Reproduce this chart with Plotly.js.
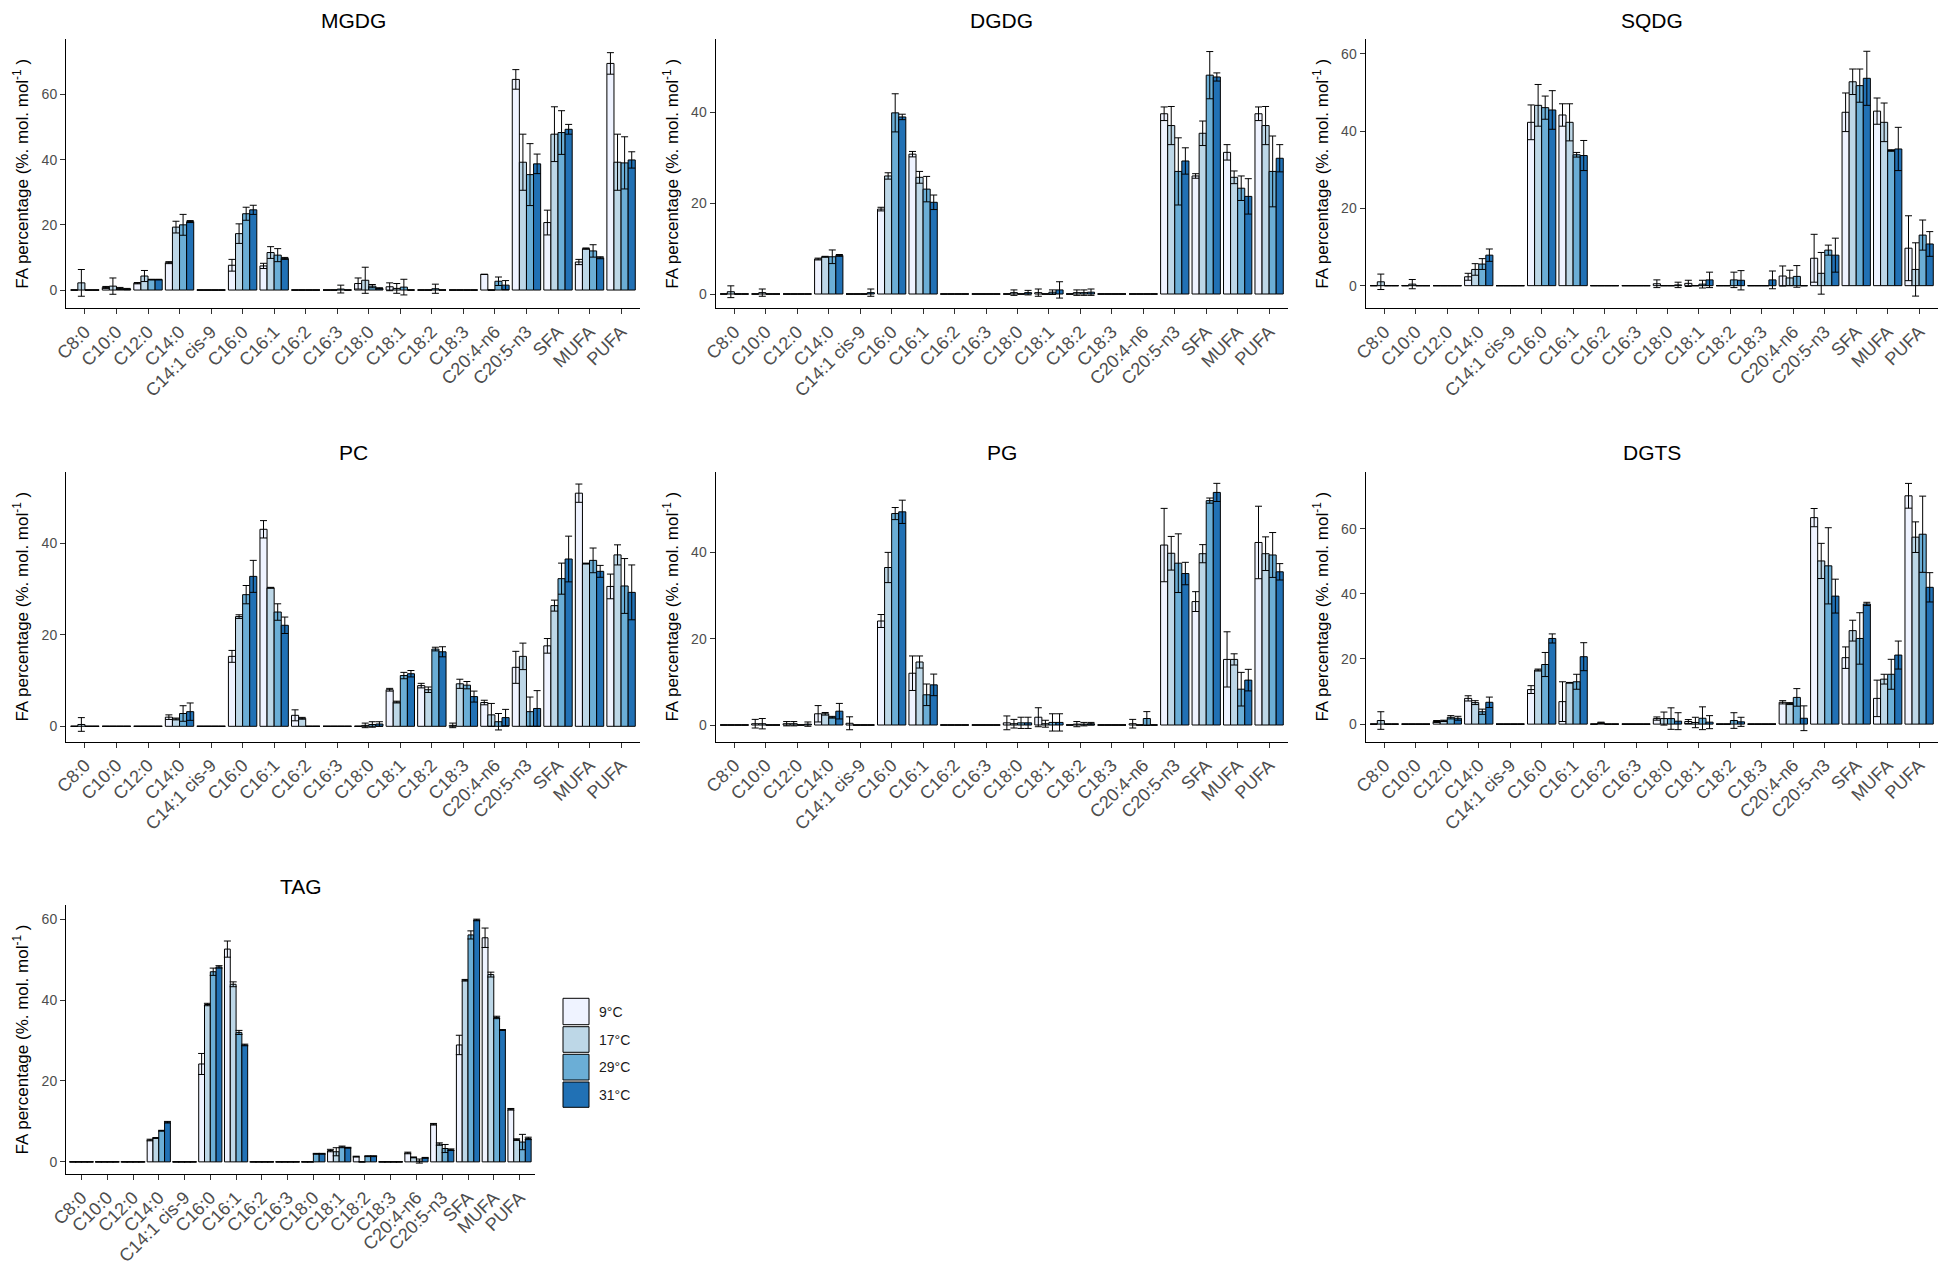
<!DOCTYPE html>
<html>
<head>
<meta charset="utf-8">
<script src="https://cdn.plot.ly/plotly-3.0.1.min.js"></script>
<style>
  body { margin: 0; background: #fff; }
  #chart { width: 1949px; height: 1267px; }
</style>
</head>
<body>
<div id="chart"></div>
<script>
// fatty acid classes (x axis)
var categories = ['C8:0', 'C10:0', 'C12:0', 'C14:0', 'C14:1 cis-9', 'C16:0', 'C16:1', 'C16:2', 'C16:3',
    'C18:0', 'C18:1', 'C18:2', 'C18:3', 'C20:4-n6', 'C20:5-n3', 'SFA', 'MUFA', 'PUFA'];
var temps = ['9°C', '17°C', '29°C', '31°C'];
var colors = ['#eff3ff', '#bdd7e7', '#6baed6', '#2171b5'];

// one row per temperature, one value per fatty acid
var MGDG_mean = [
    [0, 0.8, 2.1, 8.4, 0, 7.6, 7.4, 0, 0, 2.0, 1.0, 0, 0, 4.8, 64.6, 20.7, 8.6, 69.5],
    [2.2, 1.2, 4.3, 19.3, 0, 17.3, 11.5, 0, 0, 3.0, 0.5, 0, 0, 0, 39.2, 47.8, 12.7, 39.2],
    [0, 0.5, 3.2, 20.0, 0, 23.4, 10.7, 0, 0.3, 1.2, 0.9, 0.4, 0, 2.7, 35.4, 48.3, 12.0, 39.0],
    [0, 0.3, 3.2, 21.0, 0, 24.6, 9.7, 0, 0, 0.5, 0, 0, 0, 1.5, 38.7, 49.3, 9.9, 39.9]
];
var MGDG_sd = [
    [0, 0.3, 0.2, 0.3, 0, 1.8, 0.8, 0, 0, 1.7, 1.2, 0, 0, 0, 3.0, 3.8, 0.8, 3.3],
    [4.1, 2.5, 1.7, 1.8, 0, 3.0, 1.8, 0, 0, 4.0, 1.5, 0, 0, 0, 8.6, 8.4, 0.2, 8.6],
    [0, 0.3, 0.1, 3.2, 0, 2.0, 2.0, 0, 1.2, 0.5, 2.4, 1.4, 0, 1.3, 9.5, 6.7, 1.9, 8.0],
    [0, 0.2, 0.1, 0.3, 0, 1.4, 0.3, 0, 0, 0.2, 0, 0, 0, 1.4, 3.0, 1.5, 0.3, 2.5]
];

var DGDG_mean = [
    [0, 0, 0, 7.7, 0, 18.7, 30.8, 0, 0, 0, 0.3, 0, 0, 0, 39.7, 26.0, 31.2, 39.7],
    [0.5, 0.3, 0, 8.2, 0, 26.0, 25.7, 0, 0, 0.3, 0, 0.3, 0, 0, 37.1, 35.4, 25.7, 37.1],
    [0, 0, 0, 8.2, 0, 39.9, 23.1, 0, 0, 0, 0.4, 0.3, 0, 0, 27.0, 48.2, 23.3, 27.0],
    [0, 0, 0, 8.5, 0.3, 39.0, 20.2, 0, 0, 0.3, 0.9, 0.4, 0, 0, 29.3, 47.8, 21.5, 29.9]
];
var DGDG_sd = [
    [0, 0, 0, 0.2, 0, 0.4, 0.6, 0, 0, 0, 0.8, 0, 0, 0, 1.5, 0.5, 1.7, 1.5],
    [1.3, 0.8, 0, 0.1, 0, 0.7, 1.3, 0, 0, 0.6, 0, 0.6, 0, 0, 4.2, 2.7, 1.4, 4.2],
    [0, 0, 0, 1.5, 0, 4.2, 2.8, 0, 0, 0, 0.5, 0.6, 0, 0, 7.4, 5.2, 2.7, 7.8],
    [0, 0, 0, 0.2, 0.8, 0.6, 1.6, 0, 0, 0.5, 1.8, 0.7, 0, 0, 2.9, 0.9, 3.9, 3.0]
];

var SQDG_mean = [
    [0, 0, 0, 2.3, 0, 42.3, 44.2, 0, 0, 0.5, 0.6, 0, 0, 2.5, 7.1, 44.9, 45.2, 9.7],
    [1.0, 0.4, 0, 4.2, 0, 46.7, 42.3, 0, 0, 0, 0, 0, 0, 2.0, 3.2, 52.8, 42.3, 4.2],
    [0, 0, 0, 5.6, 0, 46.1, 33.9, 0, 0, 0, 0.4, 1.5, 0, 2.4, 9.2, 51.8, 35.0, 13.1],
    [0, 0, 0, 7.9, 0, 45.5, 33.7, 0, 0, 0.2, 1.5, 1.4, 1.5, 0, 7.9, 53.7, 35.4, 10.8]
];
var SQDG_sd = [
    [0, 0, 0, 0.9, 0, 4.5, 2.9, 0, 0, 1.0, 0.8, 0, 0, 2.6, 6.2, 5.0, 3.4, 8.4],
    [2.0, 1.2, 0, 1.5, 0, 5.4, 4.8, 0, 0, 0, 0, 0, 0, 2.0, 5.4, 3.3, 5.0, 6.9],
    [0, 0, 0, 1.4, 0, 3.0, 0.6, 0, 0, 0, 1.0, 2.0, 0, 2.8, 1.3, 4.3, 0.2, 3.9],
    [0, 0, 0, 1.6, 0, 5.0, 3.9, 0, 0, 0.7, 2.0, 2.5, 2.3, 0, 4.4, 7.0, 5.6, 3.2]
];

var PC_mean = [
    [0, 0, 0, 2.0, 0, 15.3, 43.1, 2.4, 0, 0, 8.0, 8.9, 0.2, 5.2, 12.9, 17.6, 51.0, 30.6],
    [0.4, 0, 0, 1.6, 0, 24.0, 30.3, 1.75, 0, 0.2, 5.3, 8.0, 9.3, 2.5, 15.3, 26.4, 35.6, 37.5],
    [0, 0, 0, 2.8, 0, 28.8, 25.0, 0, 0, 0.4, 11.1, 16.9, 9.0, 1.0, 3.2, 32.3, 36.3, 30.7],
    [0, 0, 0, 3.2, 0, 32.8, 22.1, 0, 0, 0.5, 11.5, 16.3, 6.5, 1.9, 3.9, 36.6, 33.9, 29.3]
];
var PC_sd = [
    [0, 0, 0, 0.5, 0, 1.3, 1.9, 1.2, 0, 0, 0.3, 0.5, 0.5, 0.5, 3.5, 1.6, 2.0, 2.7],
    [1.5, 0, 0, 0.2, 0, 0.4, 0.1, 0.2, 0, 0.5, 0.2, 0.6, 1.0, 2.5, 2.9, 1.2, 0.1, 2.2],
    [0, 0, 0, 1.7, 0, 2.0, 1.8, 0, 0, 0.6, 0.7, 0.4, 0.8, 1.8, 3.2, 3.4, 2.7, 6.0],
    [0, 0, 0, 1.9, 0, 3.5, 1.8, 0, 0, 0.5, 0.7, 1.1, 1.2, 1.8, 3.9, 5.0, 1.3, 6.0]
];

var PG_mean = [
    [0, 0.3, 0.3, 2.6, 0.4, 24.1, 12.0, 0, 0, 0.5, 1.8, 0, 0, 0.3, 41.7, 28.6, 15.2, 42.3],
    [0, 0.3, 0.3, 2.6, 0, 36.5, 14.6, 0, 0, 0.3, 0.3, 0.2, 0, 0, 39.8, 39.7, 15.2, 39.7],
    [0, 0, 0, 1.8, 0, 49.0, 7.0, 0, 0, 0.5, 0.6, 0.2, 0, 1.5, 37.5, 52.0, 8.3, 39.4],
    [0, 0, 0.2, 3.2, 0, 49.4, 9.3, 0, 0, 0.5, 0.6, 0.3, 0, 0, 35.1, 53.9, 10.4, 35.5]
];
var PG_sd = [
    [0, 1.0, 0.5, 1.9, 1.5, 1.5, 4.0, 0, 0, 1.6, 2.2, 0, 0, 1.0, 8.5, 2.3, 6.4, 8.4],
    [0, 1.2, 0.5, 0.3, 0, 3.5, 1.4, 0, 0, 1.0, 0.8, 0.6, 0, 0, 3.9, 2.1, 1.3, 3.9],
    [0, 0, 0, 0.2, 0, 1.4, 2.5, 0, 0, 1.3, 2.0, 0.4, 0, 1.6, 6.8, 0.6, 3.9, 5.2],
    [0, 0, 0.5, 1.8, 0, 2.7, 2.5, 0, 0, 1.3, 2.0, 0.3, 0, 0, 2.6, 2.1, 2.5, 1.9]
];

var DGTS_mean = [
    [0, 0, 0.8, 7.9, 0, 10.6, 6.9, 0, 0, 1.7, 0.8, 0, 0, 6.7, 63.4, 20.4, 7.9, 70.1],
    [1.1, 0, 1.0, 6.6, 0, 16.6, 12.7, 0.4, 0, 1.7, 0.5, 0, 0, 6.3, 50.1, 28.7, 13.8, 57.4],
    [0, 0, 2.1, 3.8, 0, 18.3, 13.0, 0, 0, 1.7, 1.8, 1.1, 0, 8.2, 48.6, 26.3, 15.3, 58.3],
    [0, 0, 1.8, 6.7, 0, 26.3, 20.7, 0, 0, 0.9, 0.6, 0.7, 0, 1.8, 39.3, 36.9, 21.2, 42.0]
];
var DGTS_sd = [
    [0, 0, 0.3, 0.8, 0, 1.2, 6.1, 0, 0, 0.5, 0.6, 0, 0, 0.5, 2.8, 3.3, 5.6, 3.8],
    [2.7, 0, 0.2, 0.6, 0, 0.3, 0.1, 0.2, 0, 2.0, 1.6, 0, 0, 0.3, 5.4, 3.2, 1.5, 4.7],
    [0, 0, 0.5, 0.8, 0, 3.7, 2.3, 0, 0, 3.3, 3.5, 2.4, 0, 2.7, 11.7, 7.9, 4.6, 11.7],
    [0, 0, 0.6, 1.6, 0, 1.4, 4.3, 0, 0, 2.6, 2.0, 1.4, 0, 3.8, 5.2, 0.5, 4.3, 4.5]
];

var TAG_mean = [
    [0, 0, 0, 5.4, 0, 24.2, 52.6, 0, 0, 0, 2.8, 1.3, 0, 2.2, 9.3, 28.9, 55.4, 13.0],
    [0, 0, 0, 5.9, 0, 38.9, 43.9, 0, 0, 0, 2.5, 0, 0, 1.1, 4.4, 44.9, 46.3, 5.5],
    [0, 0, 0, 7.7, 0, 47.0, 32.0, 0, 0, 2.0, 3.7, 1.4, 0, 0.2, 3.3, 56.1, 35.7, 4.9],
    [0, 0, 0, 9.8, 0, 48.2, 28.9, 0, 0, 2.0, 3.5, 1.4, 0, 1.0, 3.0, 59.8, 32.6, 5.8]
];
var TAG_sd = [
    [0, 0, 0, 0.2, 0, 2.6, 2.0, 0, 0, 0, 0.3, 0.1, 0, 0.2, 0.2, 2.4, 2.4, 0.2],
    [0, 0, 0, 0.1, 0, 0.3, 0.6, 0, 0, 0, 1.0, 0, 0, 0.1, 0.3, 0.2, 0.6, 0.2],
    [0, 0, 0, 0.1, 0, 0.9, 0.5, 0, 0, 0.1, 0.2, 0.1, 0, 0.5, 1.0, 1.0, 0.3, 1.9],
    [0, 0, 0, 0.2, 0, 0.3, 0.2, 0, 0, 0.1, 0.1, 0.1, 0, 0.1, 0.2, 0.2, 0.1, 0.3]
];

// page size and panel boxes in pixels: [left, right, top, bottom]
var W = 1949, H = 1267;
var panels = [
    { name: 'MGDG', mean: MGDG_mean, sd: MGDG_sd, box: [66, 640, 39.3, 308.3], yr: [-5.6, 76.9] },
    { name: 'DGDG', mean: DGDG_mean, sd: DGDG_sd, box: [715.5, 1288, 39.3, 308.3], yr: [-3.15, 56.1] },
    { name: 'SQDG', mean: SQDG_mean, sd: SQDG_sd, box: [1365.5, 1938, 39.3, 308.3], yr: [-5.86, 63.8] },
    { name: 'PC', mean: PC_mean, sd: PC_sd, box: [66, 640, 471.7, 741.7], yr: [-3.37, 55.7] },
    { name: 'PG', mean: PG_mean, sd: PG_sd, box: [715.5, 1288, 471.7, 741.7], yr: [-3.87, 58.7] },
    { name: 'DGTS', mean: DGTS_mean, sd: DGTS_sd, box: [1365.5, 1938, 471.7, 741.7], yr: [-5.4, 77.5] },
    { name: 'TAG', mean: TAG_mean, sd: TAG_sd, box: [66, 535, 905, 1174], yr: [-3.0, 63.5] }
];

function px(x) { return x / W; }
function py(y) { return 1 - y / H; }

var font = 'Liberation Sans, Arial, sans-serif';
var traces = [];
var layout = {
    width: W, height: H,
    margin: { l: 0, r: 0, t: 0, b: 0 },
    paper_bgcolor: '#fff', plot_bgcolor: '#fff',
    barmode: 'group', bargap: 0.1, bargroupgap: 0,
    showlegend: false,
    font: { family: font, color: '#000' },
    annotations: [], shapes: []
};

panels.forEach(function (p, k) {
    var s = k === 0 ? '' : String(k + 1);
    for (var t = 0; t < 4; t++) {
        traces.push({
            type: 'bar',
            name: temps[t],
            x: categories,
            y: p.mean[t],
            xaxis: 'x' + s, yaxis: 'y' + s,
            marker: { color: colors[t], line: { color: '#000', width: 1 } },
            error_y: { type: 'data', array: p.sd[t], visible: true, color: '#000', thickness: 1, width: 3.5 },
            hoverinfo: 'x+y+name'
        });
    }
    layout['xaxis' + s] = {
        domain: [px(p.box[0]), px(p.box[1])], anchor: 'y' + s,
        type: 'category', range: [-0.6, 17.6],
        showline: true, linecolor: '#000', linewidth: 1,
        ticks: 'outside', ticklen: 5, tickcolor: '#333', tickwidth: 1,
        tickangle: -45, tickfont: { size: 18, color: '#4d4d4d', family: font },
        showgrid: false, zeroline: false, fixedrange: true
    };
    layout['yaxis' + s] = {
        domain: [py(p.box[3]), py(p.box[2])], anchor: 'x' + s,
        range: p.yr, tick0: 0, dtick: 20,
        showline: true, linecolor: '#000', linewidth: 1,
        ticks: 'outside', ticklen: 5, tickcolor: '#333', tickwidth: 1,
        tickfont: { size: 14, color: '#4d4d4d', family: font },
        showgrid: false, zeroline: false, fixedrange: true,
        title: { text: 'FA percentage (%. mol. mol<sup>-1</sup> )', font: { size: 17, family: font, color: '#000' }, standoff: 8 }
    };
    layout.annotations.push({
        xref: 'paper', yref: 'paper',
        x: px((p.box[0] + p.box[1]) / 2), y: py(p.box[2] - 19),
        text: p.name, showarrow: false,
        xanchor: 'center', yanchor: 'middle',
        font: { size: 21, family: font, color: '#000' }
    });
});

// legend drawn beside the TAG panel
var keyTop = [997.3, 1025.7, 1053.3, 1081, 1108.3];
temps.forEach(function (name, t) {
    layout.shapes.push({
        type: 'rect', xref: 'paper', yref: 'paper',
        x0: px(563), x1: px(589), y0: py(keyTop[t] + 1), y1: py(keyTop[t + 1] - 1),
        fillcolor: colors[t], line: { color: '#000', width: 1 }
    });
    layout.annotations.push({
        xref: 'paper', yref: 'paper',
        x: px(597), y: py((keyTop[t] + keyTop[t + 1]) / 2),
        text: name, showarrow: false, xanchor: 'left', yanchor: 'middle',
        font: { size: 14, family: font, color: '#1a1a1a' }
    });
});

Plotly.newPlot('chart', traces, layout, { displayModeBar: false, staticPlot: true });
</script>
</body>
</html>
